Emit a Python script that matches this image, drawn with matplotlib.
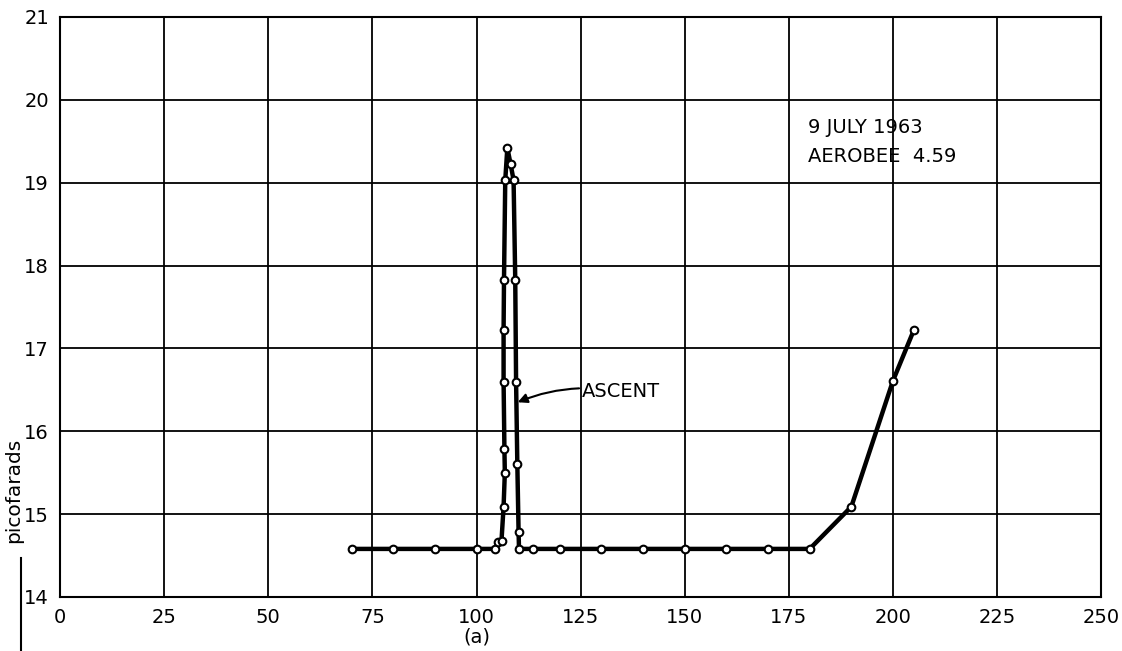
import numpy as np
import matplotlib.pyplot as plt
from matplotlib.lines import Line2D

# Capacitance record, Aerobee 4.59 ascent
tiempo = [70, 80, 90, 100, 104.5, 105.2, 106.0, 106.5, 106.8, 106.7, 106.5, 106.5, 106.6,
          106.9, 107.4, 108.2, 108.9, 109.3, 109.5, 109.8, 110.1, 110.2, 113.5,
          120, 130, 140, 150, 160, 170, 180, 190, 200, 205]
capacidad = [14.58, 14.58, 14.58, 14.58, 14.58, 14.66, 14.68, 15.09, 15.5, 15.78, 16.6, 17.22, 17.83,
             19.03, 19.42, 19.22, 19.03, 17.83, 16.6, 15.6, 14.79, 14.58, 14.58,
             14.58, 14.58, 14.58, 14.58, 14.58, 14.58, 14.58, 15.09, 16.61, 17.22]

xticks = [0, 25, 50, 75, 100, 125, 150, 175, 200, 225, 250]
yticks = [14, 15, 16, 17, 18, 19, 20, 21]

fig = plt.figure(figsize=(11.22, 6.51), dpi=100)
ax = fig.add_axes([0.0535, 0.083, 0.928, 0.891])

ax.plot(tiempo, capacidad, color='black', lw=3.2, marker='o', ms=5.5,
        mfc='white', mec='black', mew=1.5, zorder=3)

ax.set_xlim(0, 250)
ax.set_ylim(14, 21)
ax.set_xticks(xticks)
ax.set_yticks(yticks)
ax.grid(True, color='black', lw=1.3)
ax.tick_params(length=0, labelsize=14, pad=8)
for s in ax.spines.values():
    s.set_linewidth(1.5)

# etiqueta (a) bajo el 100, y eje y con su raya
ax.set_xlabel('(a)', fontsize=14)
ax.xaxis.set_label_coords(0.4, -0.052)
ax.set_ylabel('picofarads', fontsize=14.5)
ax.yaxis.set_label_coords(-0.035, 0.184)
fig.add_artist(Line2D([0.0187, 0.0187], [0.0, 0.143], color='black', lw=1.5))

ax.text(179.5, 19.66, '9 JULY 1963', fontsize=14, va='center', ha='left')
ax.text(179.5, 19.32, 'AEROBEE  4.59', fontsize=14, va='center', ha='left')

ax.annotate('ASCENT', xy=(109.9, 16.35), xytext=(125.3, 16.48),
            fontsize=14, va='center', ha='left',
            arrowprops=dict(arrowstyle='-|>', color='black', lw=1.5,
                            connectionstyle='arc3,rad=0.15', shrinkA=0, shrinkB=0))

fig.savefig('out.png', dpi=100)
